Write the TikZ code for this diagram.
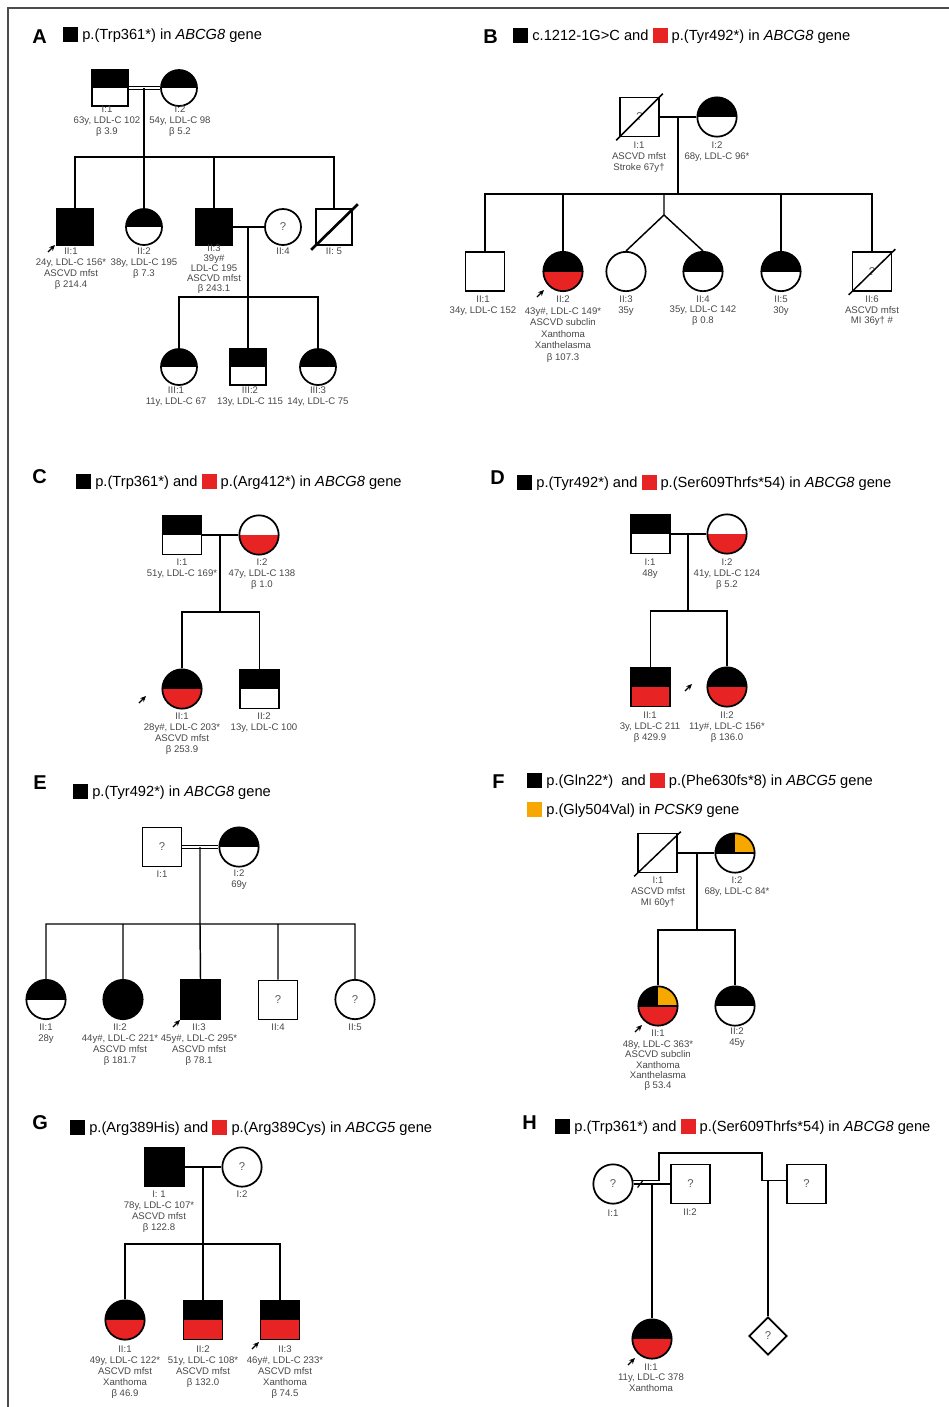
\documentclass[tikz,border=0pt]{standalone}
\usepackage{fontspec}
\setmainfont{Liberation Sans}
\usetikzlibrary{shapes.geometric,arrows.meta}
\definecolor{myred}{RGB}{232,35,35}
\definecolor{myorange}{RGB}{247,168,0}
\newcommand\lsq[1]{{\color{#1}\rule[-2pt]{11.25pt}{11.25pt}}}
\begin{document}
\begin{tikzpicture}[x=0.75pt,y=-0.75pt,
  symb/.style={draw, line width=1.3pt, inner sep=0pt, font=\fontsize{8.5}{9}\selectfont, text=black!65},
  sqA/.style={symb, rectangle, minimum size=27pt},
  ciA/.style={symb, circle, minimum size=27pt},
  sqB/.style={symb, rectangle, minimum size=29.25pt},
  ciB/.style={symb, circle, minimum size=29.5pt},
  dia/.style={symb, diamond, aspect=1, minimum size=28.5pt},
  hf/.style 2 args={path picture={
     \fill[#1] (path picture bounding box.north west) rectangle (path picture bounding box.east);
     \fill[#2] (path picture bounding box.west) rectangle (path picture bounding box.south east);}},
  quart/.style={path picture={
     \fill[black] (path picture bounding box.north west) rectangle (path picture bounding box.center);
     \fill[myorange] (path picture bounding box.north) rectangle (path picture bounding box.east);
     \fill[#1] (path picture bounding box.west) rectangle (path picture bounding box.south east);
     \draw[line width=0.8pt] (path picture bounding box.west) -- (path picture bounding box.east);}},
  ln/.style={line width=1.1pt},
  dbl/.style={double, double distance=1.2pt, line width=0.75pt},
  slashA/.style={line width=2pt},
  slashB/.style={line width=1.1pt},
  prob/.style={-{Stealth[length=4.5pt,width=4pt]}, line width=0.9pt},
  lab/.style={font=\fontsize{7.2}{8.2}\selectfont, text=black!72, align=center, inner sep=0pt, anchor=north, yshift=-1.1pt},
  hdr/.style={font=\fontsize{11}{13}\selectfont, anchor=base west, inner sep=0pt},
  plet/.style={font=\fontsize{15}{17}\selectfont\bfseries, anchor=base west, inner sep=0pt}
]
\useasboundingbox (0,0) rectangle (949,1407);
\draw[line width=1.1pt, black!70] (949,8) -- (8,8) -- (8,1407);

% ================= Panel A =================
\node[plet] (LA) at (32,43) {A};
\node[hdr] (hA) at (63,39.2) {\lsq{black} p.(Trp361*) in \textit{ABCG8} gene};
\node[sqA, hf={black}{white}] (A11) at (110,88) {};
\node[ciA, hf={black}{white}] (A12) at (179,88) {};
\draw[dbl] (A11.east) -- (A12.west);
\coordinate (Am) at (144,88); \coordinate (As) at (144,157);
\node[sqA, fill=black] (A21) at (75,227) {};
\node[ciA, hf={black}{white}] (A22) at (144,227) {};
\node[sqA, fill=black] (A23) at (214,227) {};
\node[ciA] (A24) at (283,227) {?};
\node[sqA] (A25) at (334,227) {};
\draw[slashA] ([shift={(-4,4)}]A25.south west) -- ([shift={(5,-4)}]A25.north east);
\draw[ln] (Am) -- (As) (As) -| (A21.north) (As) -| (A23.north) (As) -| (A25.north) (As) -- (A22.north);
\draw[ln] (A23.east) -- (A24.west);
\coordinate (Am2) at (248,227); \coordinate (As2) at (248,297);
\node[ciA, hf={black}{white}] (A31) at (179,367) {};
\node[sqA, hf={black}{white}] (A32) at (248,367) {};
\node[ciA, hf={black}{white}] (A33) at (318,367) {};
\draw[ln] (Am2) -- (As2) (As2) -| (A31.north) (As2) -| (A33.north) (As2) -- (A32.north);
\draw[prob] (48,252) -- (55,245);
\node[lab] (lA11) at (107,104.5) {I:1\\63y, LDL-C 102\\β 3.9};
\node[lab] (lA12) at (180,104.5) {I:2\\54y, LDL-C 98\\β 5.2};
\node[lab] (lA21) at (71,246.5) {II:1\\24y, LDL-C 156*\\ASCVD mfst\\β 214.4};
\node[lab] (lA22) at (144,246.5) {II:2\\38y, LDL-C 195\\β 7.3};
\node[lab, font=\fontsize{7.2}{7.5}\selectfont] (lA23) at (214,243.5) {II:3\\39y\#\\LDL-C 195\\ASCVD mfst\\β 243.1};
\node[lab] (lA24) at (283,246.5) {II:4};
\node[lab] (lA25) at (334,246.5) {II: 5};
\node[lab] (lA31) at (176,385.5) {III:1\\11y, LDL-C 67};
\node[lab] (lA32) at (250,385.5) {III:2\\13y, LDL-C 115};
\node[lab] (lA33) at (318,385.5) {III:3\\14y, LDL-C 75};

% ================= Panel B =================
\node[plet] (LB) at (483,43) {B};
\node[hdr] (hB) at (513,40.5) {\lsq{black} c.1212-1G>C and \lsq{myred} p.(Tyr492*) in \textit{ABCG8} gene};
\node[sqB] (B11) at (639.5,117) {?};
\draw[slashB] ([shift={(-3,3)}]B11.south west) -- ([shift={(3,-3)}]B11.north east);
\node[ciB, hf={black}{white}] (B12) at (717,117) {};
\draw[ln] (B11.east) -- (B12.west);
\coordinate (Bm) at (678,117); \coordinate (Bs) at (678,194);
\node[sqB] (B21) at (485,271.5) {};
\node[ciB, hf={black}{myred}] (B22) at (563,271.5) {};
\node[ciB] (B23) at (626,271.5) {};
\node[ciB, hf={black}{white}] (B24) at (703,271.5) {};
\node[ciB, hf={black}{white}] (B25) at (781,271.5) {};
\node[sqB] (B26) at (872,271.5) {?};
\draw[slashB] ([shift={(-3,3)}]B26.south west) -- ([shift={(3,-2)}]B26.north east);
\draw[ln] (Bm) -- (Bs) (Bs) -| (B21.north) (Bs) -| (B22.north) (Bs) -| (B25.north) (Bs) -| (B26.north);
\coordinate (Bt0) at (664,194); \coordinate (Bt1) at (664,215);
\draw[ln] (Bt0) -- (Bt1) (Bt1) -- (B23.north) (Bt1) -- (B24.north);
\draw[prob] (537,297) -- (544,290);
\node[lab] (lB11) at (639,140.5) {I:1\\ASCVD mfst\\Stroke 67y†};
\node[lab] (lB12) at (717,140.5) {I:2\\68y, LDL-C 96*};
\node[lab] (lB21) at (483,294.5) {II:1\\34y, LDL-C 152};
\node[lab, font=\fontsize{7.2}{8.6}\selectfont] (lB22) at (563,294.5) {II:2\\43y\#, LDL-C 149*\\ASCVD subclin\\Xanthoma\\Xanthelasma\\β 107.3};
\node[lab] (lB23) at (626,294.5) {II:3\\35y};
\node[lab, font=\fontsize{7.2}{7.6}\selectfont] (lB24) at (703,294.5) {II:4\\35y, LDL-C 142\\β 0.8};
\node[lab] (lB25) at (781,294.5) {II:5\\30y};
\node[lab, font=\fontsize{7.2}{7.6}\selectfont] (lB26) at (872,294.5) {II:6\\ASCVD mfst\\MI 36y† \#};

% ================= Panel C =================
\node[plet] (LC) at (32,483) {C};
\node[hdr] (hC) at (76,486.5) {\lsq{black} p.(Trp361*) and \lsq{myred} p.(Arg412*) in \textit{ABCG8} gene};
\node[sqB, hf={black}{white}] (C11) at (182,535) {};
\node[ciB, hf={white}{myred}] (C12) at (259,535) {};
\draw[ln] (C11.east) -- (C12.west);
\coordinate (Cm) at (220,535); \coordinate (Cs) at (220,612);
\node[ciB, hf={black}{myred}] (C21) at (182,689) {};
\node[sqB, hf={black}{white}] (C22) at (259.5,689) {};
\draw[ln] (Cm) -- (Cs) (Cs) -| (C21.north) (Cs) -| (C22.north);
\draw[prob] (139,703) -- (146,696);
\node[lab] (lC11) at (182,557.5) {I:1\\51y, LDL-C 169*};
\node[lab] (lC12) at (262,557.5) {I:2\\47y, LDL-C 138\\β 1.0};
\node[lab] (lC21) at (182,711.5) {II:1\\28y\#, LDL-C 203*\\ASCVD mfst\\β 253.9};
\node[lab] (lC22) at (264,711) {II:2\\13y, LDL-C 100};

% ================= Panel D =================
\node[plet] (LD) at (490,484) {D};
\node[hdr] (hD) at (517,487.5) {\lsq{black} p.(Tyr492*) and \lsq{myred} p.(Ser609Thrfs*54) in \textit{ABCG8} gene};
\node[sqB, hf={black}{white}] (D11) at (650.5,534) {};
\node[ciB, hf={white}{myred}] (D12) at (727,534) {};
\draw[ln] (D11.east) -- (D12.west);
\coordinate (Dm) at (688,534); \coordinate (Ds) at (688,611);
\node[sqB, hf={black}{myred}] (D21) at (650.5,687) {};
\node[ciB, hf={black}{myred}] (D22) at (727,687) {};
\draw[ln] (Dm) -- (Ds) (Ds) -| (D21.north) (Ds) -| (D22.north);
\draw[prob] (685,691) -- (692,684);
\node[lab] (lD11) at (650,557.5) {I:1\\48y};
\node[lab] (lD12) at (727,557.5) {I:2\\41y, LDL-C 124\\β 5.2};
\node[lab] (lD21) at (650,710.5) {II:1\\3y, LDL-C 211\\β 429.9};
\node[lab] (lD22) at (727,710.5) {II:2\\11y\#, LDL-C 156*\\β 136.0};

% ================= Panel E =================
\node[plet] (LE) at (33,789) {E};
\node[hdr] (hE) at (73,796.5) {\lsq{black} p.(Tyr492*) in \textit{ABCG8} gene};
\node[sqB] (E11) at (162,847) {?};
\node[ciB, hf={black}{white}] (E12) at (239,847) {};
\draw[dbl] (E11.east) -- (E12.west);
\coordinate (Em) at (200,847); \coordinate (Es) at (200,924);
\node[ciB, hf={black}{white}] (E21) at (46,999.5) {};
\node[ciB, fill=black] (E22) at (123,999.5) {};
\node[sqB, fill=black] (E23) at (200.5,999.5) {};
\node[sqB] (E24) at (278,1000) {?};
\node[ciB] (E25) at (355,999.5) {?};
\draw[ln] (Em) -- (Es) (Es) -| (E21.north) (Es) -| (E22.north) (Es) -- (E23.north) (Es) -| (E24.north) (Es) -| (E25.north);
\draw[prob] (173,1027) -- (180,1020);
\node[lab] (lE11) at (162,869.5) {I:1};
\node[lab] (lE12) at (239,868.5) {I:2\\69y};
\node[lab] (lE21) at (46,1022.5) {II:1\\28y};
\node[lab] (lE22) at (120,1022.5) {II:2\\44y\#, LDL-C 221*\\ASCVD mfst\\β 181.7};
\node[lab] (lE23) at (199,1022.5) {II:3\\45y\#, LDL-C 295*\\ASCVD mfst\\β 78.1};
\node[lab] (lE24) at (278,1022.5) {II:4};
\node[lab] (lE25) at (355,1022.5) {II:5};

% ================= Panel F =================
\node[plet] (LF) at (492,788) {F};
\node[hdr] (hF) at (527,785.5) {\lsq{black} p.(Gln22*)~ and \lsq{myred} p.(Phe630fs*8) in \textit{ABCG5} gene};
\node[hdr] (hF2) at (527,814.5) {\lsq{myorange} p.(Gly504Val) in \textit{PCSK9} gene};
\node[sqB] (F11) at (657.5,853) {};
\draw[slashB] ([shift={(-3,3)}]F11.south west) -- ([shift={(3,-1)}]F11.north east);
\node[ciB, quart=white] (F12) at (735,853) {};
\draw[ln] (F11.east) -- (F12.west);
\coordinate (Fm) at (697,853); \coordinate (Fs) at (697,930);
\node[ciB, quart=myred] (F21) at (658,1006) {};
\node[ciB, hf={black}{white}] (F22) at (735,1006) {};
\draw[ln] (Fm) -- (Fs) (Fs) -| (F21.north) (Fs) -| (F22.north);
\draw[prob] (635,1032) -- (642,1025);
\node[lab] (lF11) at (658,875.5) {I:1\\ASCVD mfst\\MI 60y†};
\node[lab] (lF12) at (737,875.5) {I:2\\68y, LDL-C 84*};
\node[lab, font=\fontsize{7.2}{7.8}\selectfont] (lF21) at (658,1028.5) {II:1\\48y, LDL-C 363*\\ASCVD subclin\\Xanthoma\\Xanthelasma\\β 53.4};
\node[lab] (lF22) at (737,1026.5) {II:2\\45y};

% ================= Panel G =================
\node[plet] (LG) at (32,1129) {G};
\node[hdr] (hG) at (70,1132.5) {\lsq{black} p.(Arg389His) and \lsq{myred} p.(Arg389Cys) in \textit{ABCG5} gene};
\node[sqB, fill=black] (G11) at (164.5,1167) {};
\node[ciB] (G12) at (242,1167) {?};
\draw[ln] (G11.east) -- (G12.west);
\coordinate (Gm) at (203,1167); \coordinate (Gs) at (203,1244);
\node[ciB, hf={black}{myred}] (G21) at (125,1320) {};
\node[sqB, hf={black}{myred}] (G22) at (203,1320) {};
\node[sqB, hf={black}{myred}] (G23) at (280,1320) {};
\draw[ln] (Gm) -- (Gs) (Gs) -| (G21.north) (Gs) -- (G22.north) (Gs) -| (G23.north);
\draw[prob] (252,1349) -- (259,1342);
\node[lab] (lG11) at (159,1189.5) {I: 1\\78y, LDL-C 107*\\ASCVD mfst\\β 122.8};
\node[lab] (lG12) at (242,1189.5) {I:2};
\node[lab] (lG21) at (125,1344.5) {II:1\\49y, LDL-C 122*\\ASCVD mfst\\Xanthoma\\β 46.9};
\node[lab] (lG22) at (203,1344.5) {II:2\\51y, LDL-C 108*\\ASCVD mfst\\β 132.0};
\node[lab] (lG23) at (285,1344.5) {II:3\\46y\#, LDL-C 233*\\ASCVD mfst\\Xanthoma\\β 74.5};

% ================= Panel H =================
\node[plet] (LH) at (522,1129) {H};
\node[hdr] (hH) at (555,1131.5) {\lsq{black} p.(Trp361*) and \lsq{myred} p.(Ser609Thrfs*54) in \textit{ABCG8} gene};
\node[ciB] (H11) at (613,1184) {?};
\node[sqB] (H12) at (690.5,1184) {?};
\node[sqB] (H13) at (806.5,1184) {?};
\coordinate (Hu2) at (659,1153); \coordinate (Hu4) at (762,1180.5);
\draw[ln] (H11.10) -| (Hu2) -| (Hu4) -- (Hu4 -| H13.west);
\draw[ln] (H11.east) -- (H12.west);
\draw[line width=0.9pt] ([shift={(4,3.5)}]H11.east) -- ([shift={(9,-3)}]H11.east);
\coordinate (Hc) at (652,1184); \coordinate (Hd) at (768,1180.5);
\node[ciB, hf={black}{myred}] (H21) at (652,1339) {};
\node[dia] (H22) at (768,1336) {?};
\draw[ln] (Hc) -- (H21.north) (Hd) -- (H22.north);
\draw[prob] (628,1365) -- (635,1358);
\node[lab] (lH11) at (613,1208.5) {I:1};
\node[lab] (lH12) at (690,1207.5) {II:2};
\node[lab, font=\fontsize{7.2}{7.6}\selectfont] (lH21) at (651,1362.5) {II:1\\11y, LDL-C 378\\Xanthoma};
\end{tikzpicture}
\end{document}
